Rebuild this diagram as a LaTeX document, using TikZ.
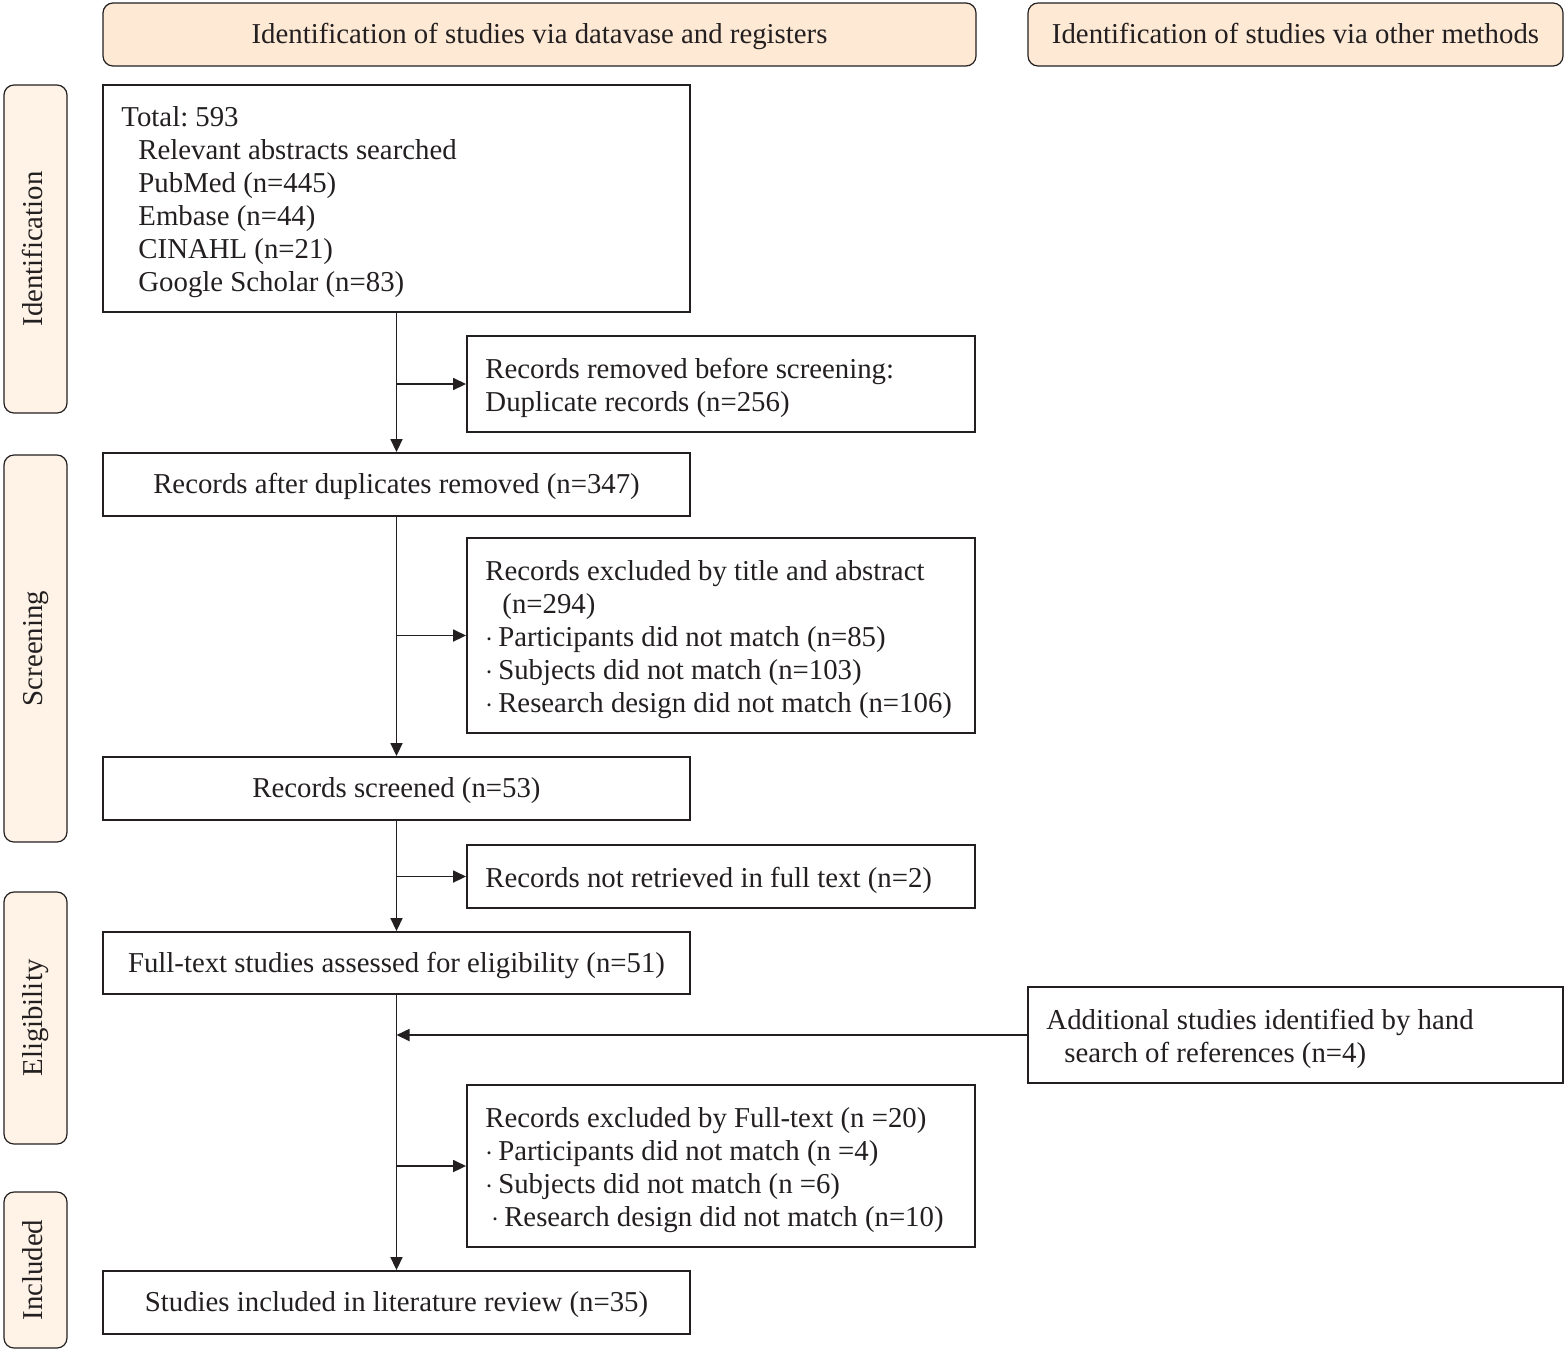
\documentclass[tikz,border=0pt]{standalone}
\usepackage{fontspec}
\setmainfont{Liberation Serif}
\usetikzlibrary{arrows.meta}
\definecolor{hdrfill}{HTML}{FDE9D4}
\definecolor{sidefill}{HTML}{FEF3E6}
\definecolor{edge}{HTML}{231F20}
\begin{document}
\frenchspacing
\begin{tikzpicture}[x=0.5pt,y=-0.5pt,
  every node/.style={font=\fontsize{14.4}{16.5}\selectfont, text=edge},
  box/.style={draw=edge, line width=0.95pt, inner sep=0pt},
  txt/.style={anchor=west, inner sep=0pt, align=left, xshift=9.5pt, yshift=-2pt},
  cbox/.style={draw=edge, line width=0.95pt, inner sep=0pt, align=center, minimum width=293.5pt, minimum height=31.5pt, text height=1.1em, text depth=0.16em},
  hdr/.style={draw=edge, line width=0.6pt, fill=hdrfill, rounded corners=5pt, inner sep=0pt, minimum height=31.5pt, align=center, text height=1.1em, text depth=0.16em},
  side/.style={draw=edge, line width=0.6pt, fill=sidefill, rounded corners=5pt, inner sep=0pt, minimum height=31.5pt, rotate=90, text height=0.85em, text depth=0.2em},
  arr/.style={draw=edge, line width=0.85pt, -{Triangle[length=6.5pt,width=6pt]}}]
\useasboundingbox (0,0) rectangle (1566,1351);
% headers
\node[hdr, minimum width=436.5pt] (h1) at (539.5,34.5) {Identification of studies via datavase and registers};
\node[hdr, minimum width=267.5pt] (h2) at (1295.5,34.5) {Identification of studies via other methods};
% side labels
\node[side, minimum width=164pt] (s1) at (35.5,249) {Identification};
\node[side, minimum width=193.5pt] (s2) at (35.5,648.5) {Screening};
\node[side, minimum width=126pt] (s3) at (35.5,1018) {Eligibility};
\node[side, minimum width=78pt] (s4) at (35.5,1270) {Included};
% main boxes
\node[box, minimum width=293.5pt, minimum height=113.5pt] (total) at (396.5,198.5) {};
\node[txt] (totalt) at (total.west) {Total: 593\\
\hspace*{8.5pt}Relevant abstracts searched\\
\hspace*{8.5pt}PubMed (n=445)\\
\hspace*{8.5pt}Embase (n=44)\\
\hspace*{8.5pt}CINAHL (n=21)\\
\hspace*{8.5pt}Google Scholar (n=83)};
\node[box, minimum width=254pt, minimum height=48pt] (removed) at (721,384) {};
\node[txt] (removedt) at (removed.west) {Records removed before screening:\\Duplicate records (n=256)};
\node[cbox] (after) at (396.5,484.5) {Records after duplicates removed (n=347)};
\node[box, minimum width=254pt, minimum height=97.5pt] (excl1) at (721,635.5) {};
\node[txt] (excl1t) at (excl1.west) {Records excluded by title and abstract\\
\hspace*{8.5pt}(n=294)\\
$\cdot$\,Participants did not match (n=85)\\
$\cdot$\,Subjects did not match (n=103)\\
$\cdot$\,Research design did not match (n=106)};
\node[cbox] (screened) at (396.5,788.5) {Records screened (n=53)};
\node[box, minimum width=254pt, minimum height=31.5pt] (notret) at (721,876.5) {};
\node[txt] (notrett) at (notret.west) {Records not retrieved in full text (n=2)};
\node[cbox, minimum height=31pt] (full) at (396.5,963) {Full-text studies assessed for eligibility (n=51)};
\node[box, minimum width=267.5pt, minimum height=48pt] (addl) at (1295.5,1035) {};
\node[txt] (addlt) at (addl.west) {Additional studies identified by hand\\
\hspace*{9pt}search of references (n=4)};
\node[box, minimum width=254pt, minimum height=81pt] (excl2) at (721,1166) {};
\node[txt] (excl2t) at (excl2.west) {Records excluded by Full-text (n =20)\\
$\cdot$\,Participants did not match (n =4)\\
$\cdot$\,Subjects did not match (n =6)\\
\hspace*{3pt}$\cdot$\,Research design did not match (n=10)};
\node[cbox] (incl) at (396.5,1302.5) {Studies included in literature review (n=35)};
% connectors
\draw[arr] (total.south) -- (after.north);
\draw[arr] (total.south |- removed.west) -- (removed.west);
\draw[arr] (after.south) -- (screened.north);
\draw[arr] (after.south |- excl1.west) -- (excl1.west);
\draw[arr] (screened.south) -- (full.north);
\draw[arr] (screened.south |- notret.west) -- (notret.west);
\draw[arr] (full.south) -- (incl.north);
\draw[arr] (full.south |- excl2.west) -- (excl2.west);
\draw[arr] (addl.west) -- (addl.west -| full.south);
\end{tikzpicture}
\end{document}
